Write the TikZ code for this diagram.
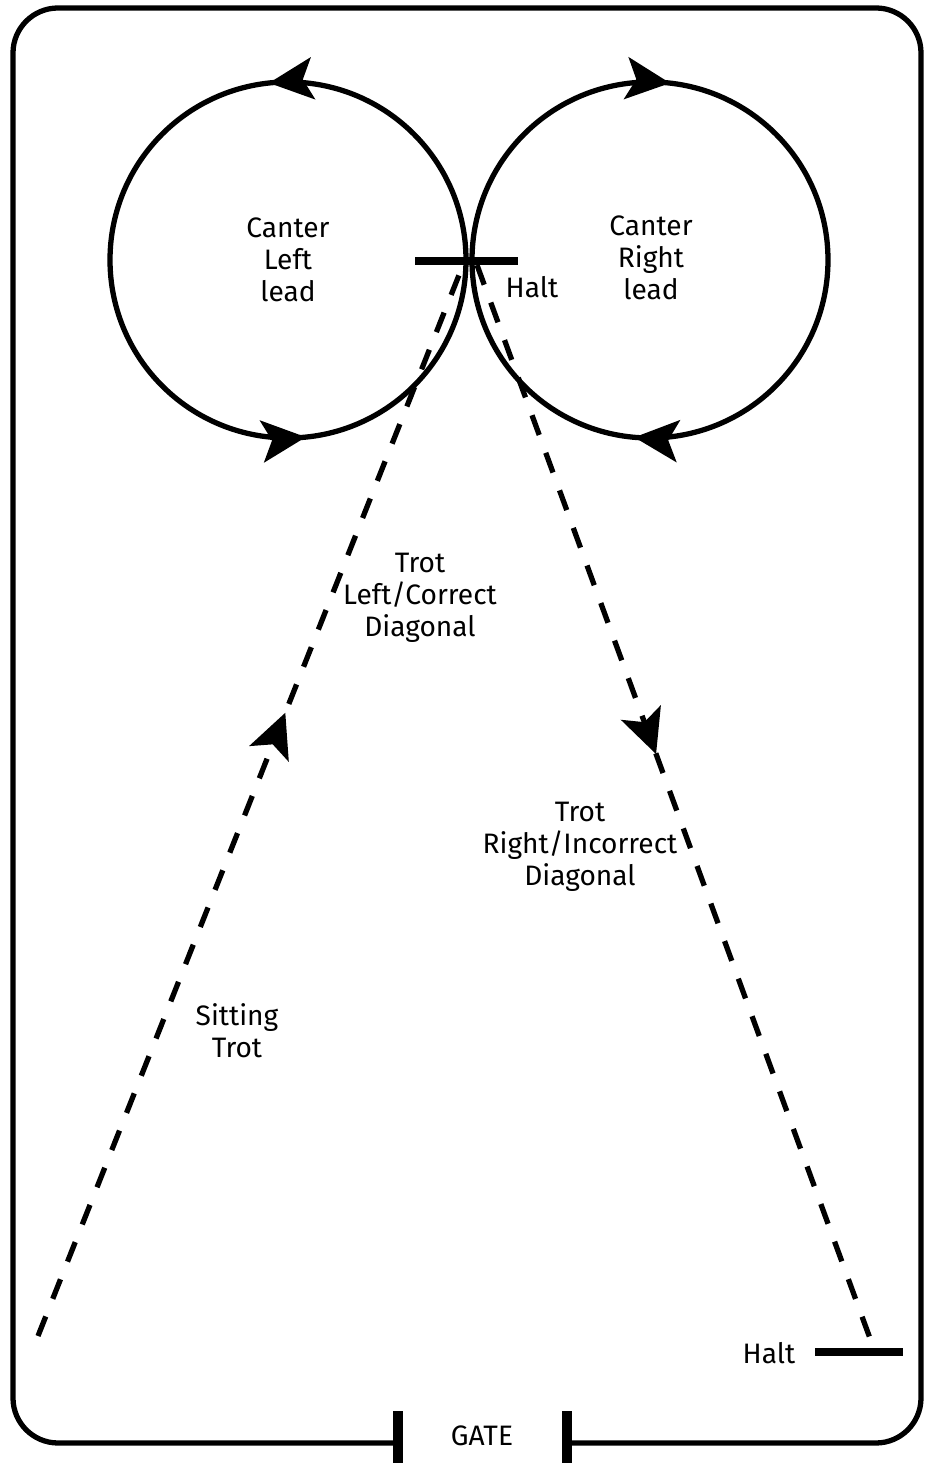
\documentclass[tikz,border=0pt]{standalone}
\usepackage{fontspec}
\setmainfont{Fira Sans}
\usetikzlibrary{arrows.meta}
\usetikzlibrary{decorations.markings}

\begin{document}
\begin{tikzpicture}
  [
    >={Stealth[length=0.44cm,width=0.42cm,inset=0.1cm]},
    track/.style={
      line width=1.5pt
    },
    trotline/.style={
      track,
      dash pattern=on 0.21cm off 0.19cm
    },
    haltbar/.style={
      line width=2pt
    },
    gatepost/.style={
      line width=2.8pt
    },
    lbl/.style={
      align=center,
      inner sep=0pt,
      font=\fontsize{8}{9.1}\selectfont
    },
    tipat/.style={
      postaction={decorate},
      decoration={markings,mark=at position #1 with {\arrow{>}}}
    },
    twotips/.style 2 args={
      postaction={decorate},
      decoration={markings,
        mark=at position #1 with {\arrow{>}},
        mark=at position #2 with {\arrow{>}}}
    }
  ]
    \useasboundingbox (0,0) rectangle (9.26,14.63);
    % arena with gate
    \draw [track,rounded corners=0.45cm] (3.98,0.20) -- (0.13,0.20) -- (0.13,14.55)
      -- (9.21,14.55) -- (9.21,0.20) -- (5.67,0.20);
    \coordinate (gl) at (3.98,0);
    \coordinate (gr) at (5.67,0);
    \draw [gatepost] (gl) -- ++(0,0.52);
    \draw [gatepost] (gr) -- ++(0,0.52);
    \node [lbl] (gate) at (4.82,0.27) {GATE};
    % circles
    \coordinate (lc) at (2.88,12.03);
    \coordinate (rc) at (6.50,12.03);
    \draw [track,twotips={0.267}{0.766}] (lc) circle [radius=1.78];
    \draw [track,twotips={0.264}{0.768}] (rc) ++(0:1.78) arc [start angle=360,end angle=0,radius=1.78];
    % halts
    \coordinate (hc) at (4.66,12.02);
    \draw [haltbar] (hc) ++(-0.51,0) -- ++(1.03,0);
    \coordinate (hb) at (8.75,1.11);
    \draw [haltbar] (8.15,1.11) -- (9.03,1.11);
    % trot lines
    \coordinate (lt) at (4.63,11.98);
    \coordinate (lb) at (0.38,1.27);
    \coordinate (rt) at (4.77,11.98);
    \draw [trotline,tipat=0.582] (lb) -- (lt);
    \draw [trotline,tipat=0.45] (rt) -- (hb);
    % labels
    \node [lbl] (cl) at (2.88,12.03) {Canter\\Left\\lead};
    \node [lbl] (cr) at (6.51,12.05) {Canter\\Right\\lead};
    \node [lbl] (h1) at (5.32,11.76) {Halt};
    \node [lbl] (tl) at (4.20,8.65) {Trot\\Left/Correct\\Diagonal};
    \node [lbl] (tr) at (5.80,6.16) {Trot\\Right/Incorrect\\Diagonal};
    \node [lbl] (st) at (2.37,4.32) {Sitting\\Trot};
    \node [lbl] (h2) at (7.69,1.10) {Halt};
\end{tikzpicture}
\end{document}
